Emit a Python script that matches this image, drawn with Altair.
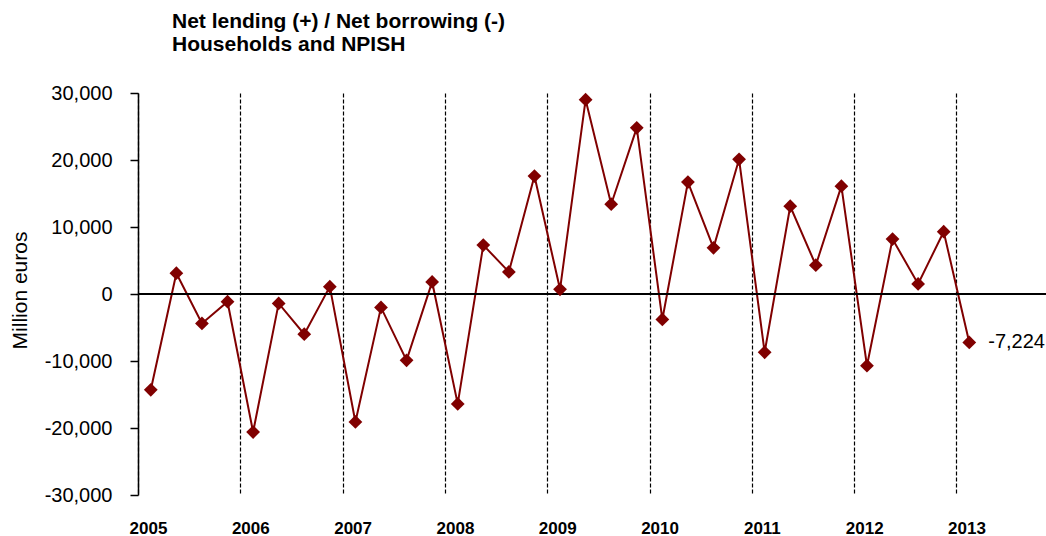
import altair as alt
import pandas as pd

# Quarterly periods 2005 Q1 .. 2013 Q1
years = [2005, 2006, 2007, 2008, 2009, 2010, 2011, 2012, 2013]
quarters = [1, 2, 3, 4]
periods = [(y, q) for y in years for q in quarters][:33]

# Net lending (+) / net borrowing (-), million euros
values = [-14300, 3100, -4400, -1150,
          -20600, -1400, -6000, 1100,
          -19100, -2000, -9900, 1800,
          -16400, 7300, 3300, 17600,
          700, 29000, 13400, 24800,
          -3800, 16700, 6900, 20100,
          -8700, 13100, 4300, 16100,
          -10700, 8200, 1500, 9300,
          -7224]

y_ticks = [-30000, -20000, -10000, 0, 10000, 20000, 30000]

df = pd.DataFrame({
    "period": [f"{y} Q{q}" for y, q in periods],
    "t": [y + (q - 0.5) / 4 for y, q in periods],
    "value": values,
})
df["is_last"] = [False] * (len(df) - 1) + [True]

FONT = "Liberation Sans"
RED = "#800000"
Y_SCALE = alt.Scale(domain=[-30000, 30000], nice=False)
fmt_expr = "replace(format(datum.value, ',.0f'), '\u2212', '-')"

x_enc = alt.X(
    "t:Q",
    scale=alt.Scale(domain=[2005, 2013.875], nice=False, zero=False),
    axis=alt.Axis(
        values=years, format="d", title=None, domain=False, ticks=False,
        grid=True, gridColor="black", gridDash=[4, 2], gridWidth=1.2,
        labelFont=FONT, labelFontSize=17, labelFontWeight="bold",
        labelColor="black", labelPadding=25, labelOffset=10,
        labelFlush=False, labelOverlap=False,
    ),
)
y_enc = alt.Y(
    "value:Q",
    scale=Y_SCALE,
    axis=alt.Axis(
        values=y_ticks, labelExpr=fmt_expr, title="Million euros",
        grid=False, domainColor="black", domainWidth=1.5,
        tickColor="black", tickWidth=1.5, tickSize=8,
        labelFont=FONT, labelFontSize=20, labelColor="black", labelPadding=18,
        titleFont=FONT, titleFontSize=21, titleFontWeight="normal",
        titleColor="black", titleX=-108, titleY=197,
    ),
)

base = alt.Chart(df)

line = base.mark_line(color=RED, strokeWidth=2).encode(x=x_enc, y=y_enc)
zero = base.mark_rule(color="black", strokeWidth=1.5).encode(y=alt.datum(0))
points = base.mark_point(
    shape="diamond", filled=True, size=190, color=RED, opacity=1
).encode(x="t:Q", y="value:Q")
label = base.transform_filter("datum.is_last").transform_calculate(
    lab="replace(format(datum.value, ',.0f'), '\u2212', '-')"
).mark_text(
    align="left", baseline="middle", dx=19, font=FONT, fontSize=20, color="black"
).encode(x="t:Q", y="value:Q", text="lab:N")

chart = alt.layer(line, zero, points, label).properties(
    width=908,
    height=402,
    background="white",
    autosize=alt.AutoSizeParams(type="none"),
    padding={"left": 138, "top": 93, "right": 0, "bottom": 41},
    title=alt.Title(
        text=["Net lending (+) / Net borrowing (-)", "Households and NPISH"],
        anchor="start", frame="group", dx=34, offset=28,
        font=FONT, fontSize=21, fontWeight="bold", color="black", lineHeight=23,
    ),
).configure_view(strokeWidth=0, stroke="transparent")

chart.save("out.html", embed_options={"renderer": "svg", "actions": False})
